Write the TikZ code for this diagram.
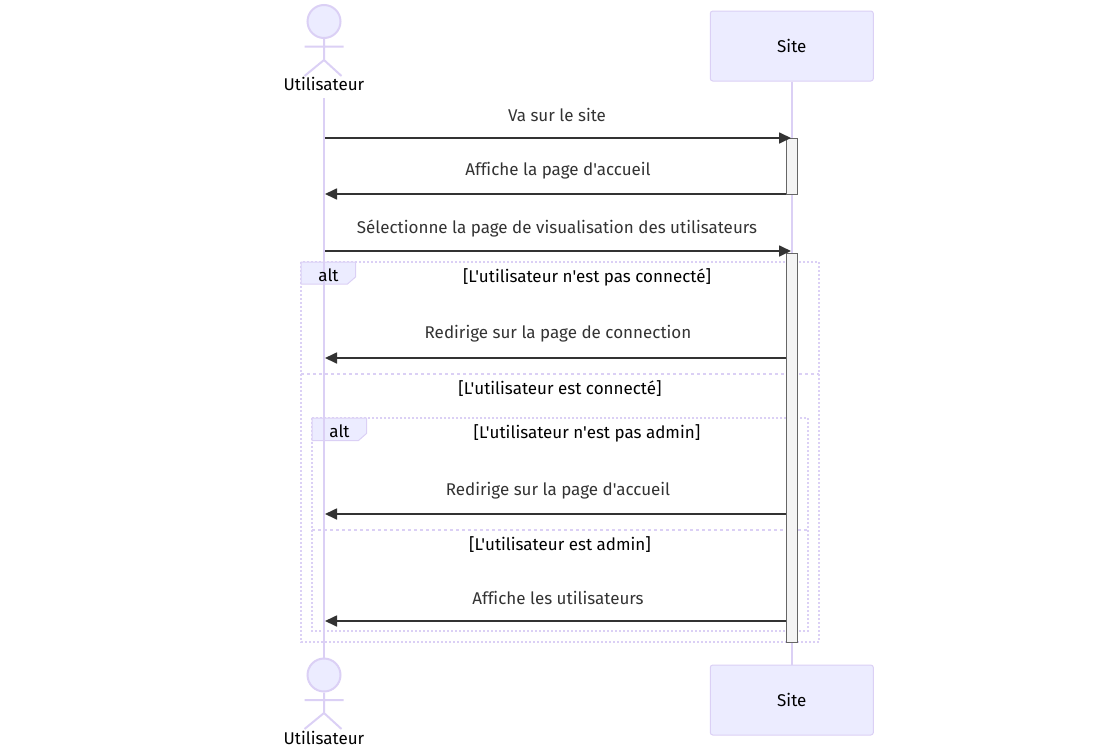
\documentclass[tikz,border=0pt]{standalone}
\usepackage{fontspec}
\setmainfont{Fira Sans}[Ligatures={TeXOff,CommonOff}]
\usetikzlibrary{arrows.meta}
\definecolor{actfill}{HTML}{ECECFF}
\definecolor{actline}{HTML}{DBD0F5}
\definecolor{msg}{HTML}{333333}
\definecolor{barfill}{HTML}{F4F4F4}
\definecolor{barline}{HTML}{666666}
\tikzset{
  x=1pt,y=-1pt,
  lifeline/.style={draw=actline,line width=2pt},
  stick/.style={draw=actline,line width=2pt},
  actorhead/.style={circle,draw=actline,fill=actfill,line width=2pt,minimum size=33pt,inner sep=0pt},
  actorbox/.style={rectangle,rounded corners=2.5pt,draw=actline,fill=actfill,line width=1pt,minimum width=163pt,minimum height=70pt},
  actorname/.style={text=black,font=\fontsize{17}{19}\selectfont,inner sep=0pt},
  msgtext/.style={text=msg,font=\fontsize{17}{19}\selectfont,inner sep=0pt},
  guard/.style={text=black,font=\fontsize{17}{19}\selectfont,inner sep=0pt},
  message/.style={draw=msg,line width=1.7pt,-{Triangle[length=12pt,width=11pt]},shorten >=0pt},
  bar/.style={rectangle,draw=barline,fill=barfill,line width=1pt,minimum width=11pt,inner sep=0pt},
  frameline/.style={draw=actline,line width=2pt,dash pattern=on 2pt off 2pt},
  sepline/.style={draw=actline,line width=2pt,dash pattern=on 3pt off 3pt},
  tagshape/.style={draw=actline,fill=actfill,line width=1pt},
}
\begin{document}
\begin{tikzpicture}
\useasboundingbox (0,0) rectangle (1116,747);
% participants
\node[actorbox] (siteT) at (791.8,46) {};
\node[actorbox] (siteB) at (791.8,700) {};
\node[actorname] at (siteT.center) {Site};
\node[actorname] at (siteB.center) {Site};
\node[actorname] (userT) at (324,84) {Utilisateur};
\node[actorname] (userB) at (324,737.5) {Utilisateur};
\node[actorhead] (headT) at (324,21.5) {};
\node[actorhead] (headB) at (324,675) {};
% anchors of the sticks
\coordinate (hipT) at (324,60);
\coordinate (armLT) at (304.5,46.5);
\coordinate (armRT) at (343.5,46.5);
\coordinate (legLT) at (304.5,76);
\coordinate (legRT) at (341.5,76);
\coordinate (hipB) at (324,713);
\coordinate (armLB) at (304.5,700);
\coordinate (armRB) at (343.5,700);
\coordinate (legLB) at (304.5,729);
\coordinate (legRB) at (341.5,729);
\draw[stick] (headT.south) -- (hipT) (armLT) -- (armRT) (legLT) -- (hipT) -- (legRT);
\draw[stick] (headB.south) -- (hipB) (armLB) -- (armRB) (legLB) -- (hipB) -- (legRB);
% frames
\coordinate (oTL) at (301,262);
\coordinate (oBR) at (819,642);
\coordinate (iTL) at (312,418);
\coordinate (iBR) at (808,631);
\draw[frameline] (oTL) rectangle (oBR);
\draw[frameline] (iTL) rectangle (iBR);
\coordinate (s1L) at (301,374);
\coordinate (s1R) at (819,374);
\coordinate (s2L) at (312,530);
\coordinate (s2R) at (808,530);
\draw[sepline] (s1L) -- (s1R);
\draw[sepline] (s2L) -- (s2R);
\draw[tagshape] (oTL) -- (355.5,262) -- (355.5,277) -- (347.5,284) -- (301,284) -- cycle;
\draw[tagshape] (iTL) -- (366.5,418) -- (366.5,433.5) -- (358.5,440.5) -- (312,440.5) -- cycle;
% lifelines
\coordinate (userTop) at (324,98);
\draw[lifeline] (userTop) -- (headB.north);
\draw[lifeline] (siteT.south) -- (siteB.north);
% activations
\node[bar,minimum height=56pt] (a1) at (791.5,166) {};
\node[bar,minimum height=389pt] (a2) at (791.5,447.5) {};
% tag and guard texts
\node[guard] (tag1) at (328.5,275) {alt};
\node[guard] (tag2) at (339.5,431) {alt};
\node[guard] (g1) at (587,277) {[L'utilisateur n'est pas connecté]};
\node[guard] (g2) at (560,389) {[L'utilisateur est connecté]};
\node[guard] (g3) at (587,433) {[L'utilisateur n'est pas admin]};
\node[guard] (g4) at (560,545) {[L'utilisateur est admin]};
% messages
\coordinate (u1) at (325,138);
\coordinate (s1) at (791,138);
\coordinate (s2) at (786,194);
\coordinate (u2) at (325,194);
\coordinate (u3) at (325,251);
\coordinate (s3) at (791,251);
\coordinate (s4) at (786,358);
\coordinate (u4) at (325,358);
\coordinate (s5) at (786,514);
\coordinate (u5) at (325,514);
\coordinate (s6) at (786,621);
\coordinate (u6) at (325,621);
\draw[message] (u1) -- (s1);
\draw[message] (s2) -- (u2);
\draw[message] (u3) -- (s3);
\draw[message] (s4) -- (u4);
\draw[message] (s5) -- (u5);
\draw[message] (s6) -- (u6);
\node[msgtext] (m1) at (557,114.5) {Va sur le site};
\node[msgtext] (m2) at (558,171) {Affiche la page d'accueil};
\node[msgtext] (m3) at (557,228) {Sélectionne la page de visualisation des utilisateurs};
\node[msgtext] (m4) at (558,334) {Redirige sur la page de connection};
\node[msgtext] (m5) at (558,491) {Redirige sur la page d'accueil};
\node[msgtext] (m6) at (558,597.5) {Affiche les utilisateurs};
\end{tikzpicture}
\end{document}
